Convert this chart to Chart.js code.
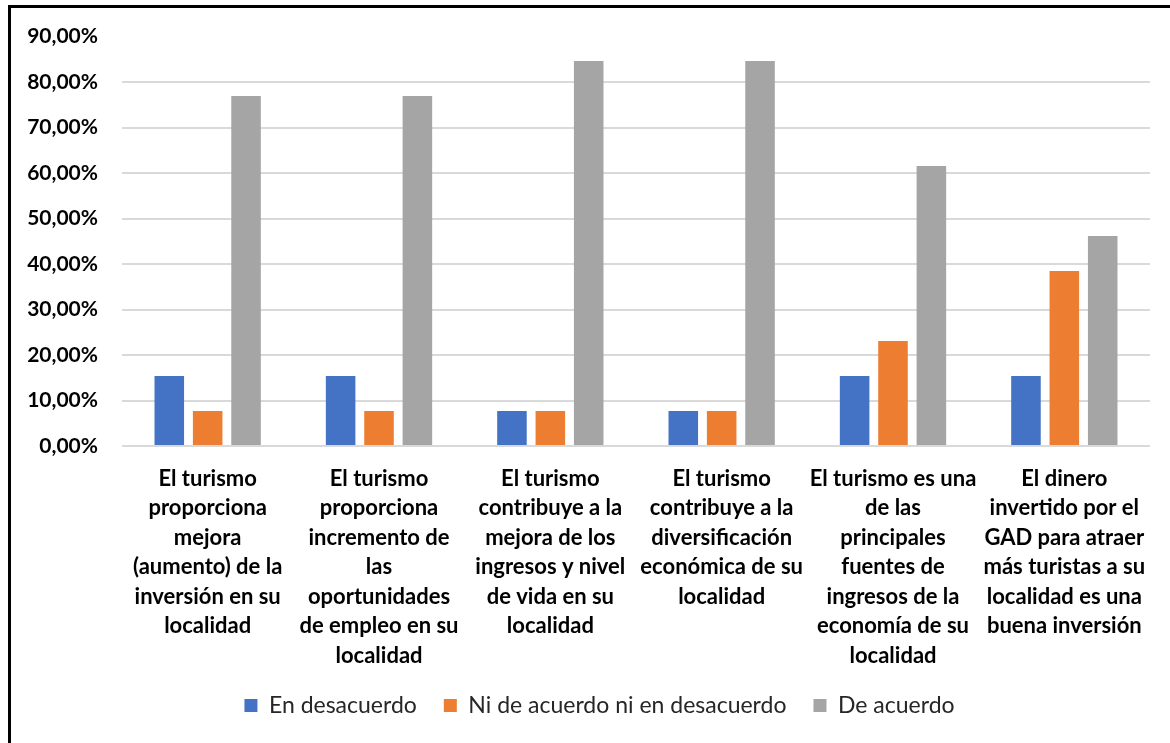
<!DOCTYPE html>
<html>
<head>
<meta charset="utf-8">
<script src="https://cdn.jsdelivr.net/npm/chart.js@4.4.1/dist/chart.umd.min.js"></script>
<style>
  html, body { margin: 0; padding: 0; background: #fff; overflow: hidden; }
  #frame {
    position: absolute; left: 8px; top: 5px; width: 1300px; height: 900px;
    border-left: 3px solid #000; border-top: 3px solid #000;
  }
  #wrap { position: absolute; left: 0; top: 0; width: 1170px; height: 743px; }
</style>
</head>
<body>
<div id="frame"></div>
<div id="wrap"><canvas id="chart"></canvas></div>
<script>
const categories = [
    ['El turismo', 'proporciona', 'mejora', '(aumento) de la', 'inversión en su', 'localidad'],
    ['El turismo', 'proporciona', 'incremento de', 'las', 'oportunidades', 'de empleo en su', 'localidad'],
    ['El turismo', 'contribuye a la', 'mejora de los', 'ingresos y nivel', 'de vida en su', 'localidad'],
    ['El turismo', 'contribuye a la', 'diversificación', 'económica de su', 'localidad'],
    ['El turismo es una', 'de las', 'principales', 'fuentes de', 'ingresos de la', 'economía de su', 'localidad'],
    ['El dinero', 'invertido por el', 'GAD para atraer', 'más turistas a su', 'localidad es una', 'buena inversión']
];
const enDesacuerdo = [15.38, 15.38, 7.69, 7.69, 15.38, 15.38];
const niAcuerdo = [7.69, 7.69, 7.69, 7.69, 23.08, 38.46];
const deAcuerdo = [76.92, 76.92, 84.62, 84.62, 61.54, 46.15];
const seriesNames = ['En desacuerdo', 'Ni de acuerdo ni en desacuerdo', 'De acuerdo'];
const yMax = 90;
const yStep = 10;

const fontFamily = 'Lato, "Noto Sans", sans-serif';

// nudge the legend a bit to the right, like the original
const legendShift = {
    id: 'legendShift',
    afterLayout(chart) {
        if (!chart.legend) return;
        chart.legend.left += 12;
        chart.legend.right += 12;
    }
};

document.addEventListener('DOMContentLoaded', () => {
    const ctx = document.getElementById('chart');

    new Chart(ctx, {
        type: 'bar',
        data: {
            labels: categories,
            datasets: [
                { label: seriesNames[0], data: enDesacuerdo, backgroundColor: '#4472C4' },
                { label: seriesNames[1], data: niAcuerdo, backgroundColor: '#ED7D31' },
                { label: seriesNames[2], data: deAcuerdo, backgroundColor: '#A5A5A5' }
            ]
        },
        plugins: [legendShift],
        options: {
            responsive: true,
            maintainAspectRatio: false,
            animation: false,
            categoryPercentage: 0.672,
            barPercentage: 0.77,
            layout: { padding: { top: 36, left: 25, right: 20, bottom: 16 } },
            plugins: {
                tooltip: { enabled: false },
                legend: {
                    position: 'bottom',
                    labels: {
                        boxWidth: 13,
                        boxHeight: 13,
                        padding: 27,
                        color: '#262626',
                        font: { family: fontFamily, size: 23 }
                    }
                }
            },
            scales: {
                x: {
                    grid: { display: false },
                    border: { display: false },
                    afterFit: (scale) => { scale.height = 221; },
                    ticks: {
                        autoSkip: false,
                        maxRotation: 0,
                        minRotation: 0,
                        padding: 10,
                        color: '#000',
                        font: { family: fontFamily, size: 22, weight: 'bold', lineHeight: 1.34 }
                    }
                },
                y: {
                    min: 0,
                    max: yMax,
                    border: { display: false },
                    grid: {
                        drawTicks: false,
                        lineWidth: 2,
                        color: (c) => (c.tick && c.tick.value === yMax ? 'rgba(0,0,0,0)' : '#D9D9D9')
                    },
                    afterFit: (scale) => { scale.width = 97; },
                    ticks: {
                        stepSize: yStep,
                        padding: 24,
                        color: '#000',
                        font: { family: fontFamily, size: 21, weight: 'bold' },
                        callback: (v) => v.toFixed(2).replace('.', ',') + '%'
                    }
                }
            }
        }
    });
});
</script>
</body>
</html>
